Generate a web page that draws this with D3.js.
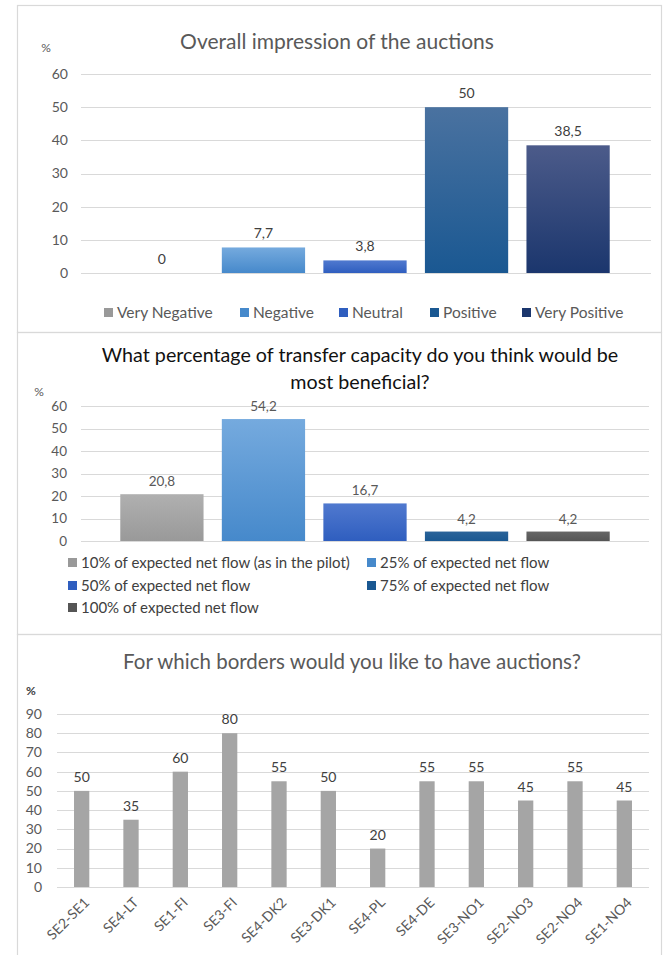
<!DOCTYPE html>
<html>
<head>
<meta charset="utf-8">
<script src="https://cdn.jsdelivr.net/npm/d3@7"></script>
<style>
  body { margin: 0; background: #fff; }
  svg text { font-family: Lato, "Open Sans", sans-serif; }
</style>
</head>
<body>
<svg id="chart" width="665" height="955"></svg>
<script>
// --- data ---
const impressionCats = ["Very Negative", "Negative", "Neutral", "Positive", "Very Positive"];
const impressionValues = [0, 7.7, 3.8, 50, 38.5];

const capacityCats = [
  "10% of expected net flow (as in the pilot)",
  "25% of expected net flow",
  "50% of expected net flow",
  "75% of expected net flow",
  "100% of expected net flow"
];
const capacityValues = [20.8, 54.2, 16.7, 4.2, 4.2];

const borderCats = ["SE2-SE1", "SE4-LT", "SE1-FI", "SE3-FI", "SE4-DK2", "SE3-DK1",
  "SE4-PL", "SE4-DE", "SE3-NO1", "SE2-NO3", "SE2-NO4", "SE1-NO4"];
const borderValues = [50, 35, 60, 80, 55, 50, 20, 55, 55, 45, 55, 45];

// colours (top, bottom of gradient)
const impressionColors = [["#b0b0b0", "#999999"], ["#75aade", "#4689cb"], ["#5079cf", "#2f5ebf"],
  ["#4a72a0", "#1a5892"], ["#4c5b8a", "#1b366d"]];
const capacityColors = [["#b0b0b0", "#999999"], ["#75aade", "#4689cb"], ["#5079cf", "#2f5ebf"],
  ["#2a6399", "#1a5892"], ["#666666", "#555555"]];

const fmt = v => String(v).replace(".", ",");

const svg = d3.select("#chart");
const defs = svg.append("defs");
svg.append("rect").attr("width", 665).attr("height", 955).attr("fill", "#fff");

function gradient(id, c) {
  const g = defs.append("linearGradient").attr("id", id)
    .attr("x1", 0).attr("y1", 0).attr("x2", 0).attr("y2", 1);
  g.append("stop").attr("offset", "0%").attr("stop-color", c[0]);
  g.append("stop").attr("offset", "100%").attr("stop-color", c[1]);
}
impressionColors.forEach((c, i) => gradient("imp" + i, c));
capacityColors.forEach((c, i) => gradient("cap" + i, c));

// panel frames
[[5, 332], [332, 634], [634, 960]].forEach(([y0, y1]) => {
  svg.append("rect").attr("x", 17.5).attr("y", y0 + 0.5)
    .attr("width", 644).attr("height", y1 - y0)
    .attr("fill", "none").attr("stroke", "#d9d9d9").attr("stroke-width", 1.2);
});

function grid(g, y, x0, x1) {
  g.append("g").selectAll("line").data(y.ticks(y.domain()[1] / 10)).join("line")
    .attr("x1", x0).attr("x2", x1)
    .attr("y1", d => Math.round(y(d)) + 0.5).attr("y2", d => Math.round(y(d)) + 0.5)
    .attr("stroke", "#d9d9d9").attr("stroke-width", 1);
}

function yLabels(g, y, xr, size) {
  g.append("g").selectAll("text").data(y.ticks(y.domain()[1] / 10)).join("text")
    .attr("x", xr).attr("y", d => y(d)).attr("dy", "0.35em")
    .attr("text-anchor", "end").attr("font-size", size).attr("fill", "#595959")
    .text(d => d);
}

// ---------- Panel 1 ----------
{
  const g = svg.append("g");
  const x = d3.scaleBand().domain(impressionCats).range([102, 628]).padding(0.18);
  const y = d3.scaleLinear().domain([0, 60]).range([273, 74]);

  g.append("text").attr("x", 337).attr("y", 49).attr("text-anchor", "middle")
    .attr("font-size", 21).attr("fill", "#595959").text("Overall impression of the auctions");
  g.append("text").attr("x", 46).attr("y", 52).attr("text-anchor", "middle")
    .attr("font-size", 12).attr("fill", "#595959").text("%");

  grid(g, y, 81, 651);
  yLabels(g, y, 68, 14);

  g.append("g").selectAll("rect").data(impressionValues).join("rect")
    .attr("x", (d, i) => x(impressionCats[i])).attr("width", x.bandwidth())
    .attr("y", d => y(d)).attr("height", d => y(0) - y(d))
    .attr("fill", (d, i) => `url(#imp${i})`);

  g.append("g").selectAll("text").data(impressionValues).join("text")
    .attr("x", (d, i) => x(impressionCats[i]) + x.bandwidth() / 2)
    .attr("y", d => y(d) - 9).attr("text-anchor", "middle")
    .attr("font-size", 14).attr("fill", "#404040").text(d => fmt(d));

  const legX = [104, 240, 339, 430, 522];
  const leg = g.append("g").selectAll("g").data(impressionCats).join("g")
    .attr("transform", (d, i) => `translate(${legX[i]},313)`);
  leg.append("rect").attr("x", 0).attr("y", -5).attr("width", 9).attr("height", 9)
    .attr("fill", (d, i) => impressionColors[i][1]);
  leg.append("text").attr("x", 13).attr("y", 0).attr("dy", "0.35em")
    .attr("font-size", 15.5).attr("fill", "#595959").text(d => d);
}

// ---------- Panel 2 ----------
{
  const g = svg.append("g");
  const x = d3.scaleBand().domain(capacityCats).range([102, 628]).padding(0.18);
  const y = d3.scaleLinear().domain([0, 60]).range([541, 406]);

  const title = ["What percentage of transfer capacity do you think would be", "most beneficial?"];
  g.append("g").selectAll("text").data(title).join("text")
    .attr("x", 360).attr("y", (d, i) => 362 + i * 27).attr("text-anchor", "middle")
    .attr("font-size", 19.7).attr("fill", "#111").text(d => d);
  g.append("text").attr("x", 39).attr("y", 396).attr("text-anchor", "middle")
    .attr("font-size", 12).attr("fill", "#595959").text("%");

  grid(g, y, 81, 649);
  yLabels(g, y, 67, 13.5);

  g.append("g").selectAll("rect").data(capacityValues).join("rect")
    .attr("x", (d, i) => x(capacityCats[i])).attr("width", x.bandwidth())
    .attr("y", d => y(d)).attr("height", d => y(0) - y(d))
    .attr("fill", (d, i) => `url(#cap${i})`);

  g.append("g").selectAll("text").data(capacityValues).join("text")
    .attr("x", (d, i) => x(capacityCats[i]) + x.bandwidth() / 2)
    .attr("y", d => y(d) - 8).attr("text-anchor", "middle")
    .attr("font-size", 13.5).attr("fill", "#595959").text(d => fmt(d));

  const legPos = [[68, 563], [367, 563], [68, 586], [367, 586], [68, 608]];
  const leg = g.append("g").selectAll("g").data(capacityCats).join("g")
    .attr("transform", (d, i) => `translate(${legPos[i][0]},${legPos[i][1]})`);
  leg.append("rect").attr("x", 0).attr("y", -5).attr("width", 9).attr("height", 9)
    .attr("fill", (d, i) => capacityColors[i][1]);
  leg.append("text").attr("x", 13).attr("y", 0).attr("dy", "0.35em")
    .attr("font-size", 15).attr("fill", "#404040").text(d => d);
}

// ---------- Panel 3 ----------
{
  const g = svg.append("g");
  const x = d3.scaleBand().domain(borderCats).range([57, 649]).paddingInner(0.69).paddingOuter(0.345);
  const y = d3.scaleLinear().domain([0, 90]).range([887, 714]);

  g.append("text").attr("x", 352).attr("y", 669).attr("text-anchor", "middle")
    .attr("font-size", 20.5).attr("fill", "#595959").text("For which borders would you like to have auctions?");
  g.append("text").attr("x", 31).attr("y", 695).attr("text-anchor", "middle")
    .attr("font-size", 12).attr("font-weight", "bold").attr("fill", "#404040").text("%");

  grid(g, y, 57, 649);
  yLabels(g, y, 42, 14);

  g.append("g").selectAll("rect").data(borderValues).join("rect")
    .attr("x", (d, i) => x(borderCats[i])).attr("width", x.bandwidth())
    .attr("y", d => y(d)).attr("height", d => y(0) - y(d))
    .attr("fill", "#a5a5a5");

  g.append("g").selectAll("text").data(borderValues).join("text")
    .attr("x", (d, i) => x(borderCats[i]) + x.bandwidth() / 2)
    .attr("y", d => y(d) - 9).attr("text-anchor", "middle")
    .attr("font-size", 14).attr("fill", "#404040").text(d => d);

  g.append("g").selectAll("text").data(borderCats).join("text")
    .attr("transform", d => `translate(${x(d) + x.bandwidth() / 2 + 5},${y(0) + 13}) rotate(-45)`)
    .attr("text-anchor", "end").attr("dy", "0.35em")
    .attr("font-size", 14).attr("fill", "#595959").text(d => d);
}
</script>
</body>
</html>
